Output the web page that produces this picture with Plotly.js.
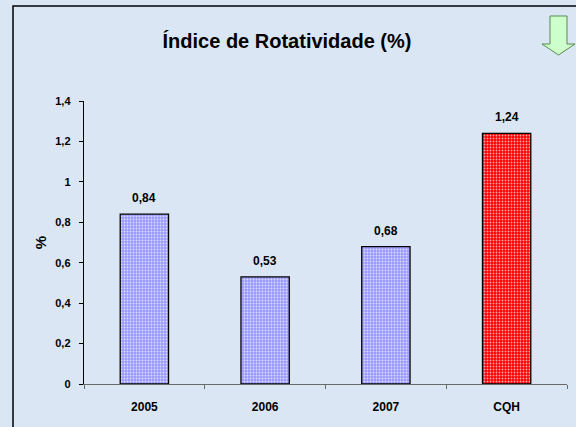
<!DOCTYPE html>
<html>
<head>
<meta charset="utf-8">
<script src="https://cdn.plot.ly/plotly-3.0.1.min.js"></script>
<style>html,body{margin:0;padding:0;background:#dae6f4;}#chart{width:576px;height:427px;}</style>
</head>
<body>
<div id="chart"></div>
<script>
const categories = ["2005", "2006", "2007", "CQH"];
const values = [0.84, 0.53, 0.68, 1.24];
const barColors = ["#9999ff", "#9999ff", "#9999ff", "#ff0000"];
const yTickLabels = ["0", "0,2", "0,4", "0,6", "0,8", "1", "1,2", "1,4"];
const yTickVals = [0, 0.2, 0.4, 0.6, 0.8, 1.0, 1.2, 1.4];

const W = 576, H = 427;
const M = {l: 84, r: 9, t: 101, b: 43};
const pw = W - M.l - M.r, ph = H - M.t - M.b;
function px(x) { return (x - M.l) / pw; }
function py(y) { return (H - M.b - y) / ph; }

const fontFam = "Liberation Sans, Arial, sans-serif";

const traces = categories.map((c, i) => ({
  type: "bar",
  x: [c],
  y: [values[i]],
  width: 0.4,
  marker: {
    color: barColors[i],
    line: {color: "#000000", width: 1.3},
    pattern: {shape: ".", bgcolor: barColors[i], fgcolor: "#ffffff", fgopacity: 0.65,
              size: 3, solidity: 0.3, fillmode: "replace"}
  },
  hoverinfo: "none"
}));

const annotations = categories.map((c, i) => ({
  x: i, y: values[i], xref: "x", yref: "y",
  text: values[i].toFixed(2).replace(".", ","),
  showarrow: false, yanchor: "bottom", yshift: 7,
  font: {family: fontFam, size: 12, color: "#000", weight: "bold"}
}));

const arrowPath = "M " + px(550) + " " + py(16) +
  " L " + px(567) + " " + py(16) +
  " L " + px(567) + " " + py(44) +
  " L " + px(575) + " " + py(44) +
  " L " + px(558.5) + " " + py(55) +
  " L " + px(542) + " " + py(44) +
  " L " + px(550) + " " + py(44) + " Z";

const layout = {
  width: W, height: H,
  margin: M,
  barmode: "overlay",
  paper_bgcolor: "#dae6f4",
  plot_bgcolor: "rgba(0,0,0,0)",
  separators: ", ",
  showlegend: false,
  title: {
    text: "Índice de Rotatividade (%)",
    x: 287 / W, xanchor: "center", xref: "container",
    y: 1 - 41 / H, yanchor: "middle", yref: "container",
    font: {family: fontFam, size: 20, color: "#000", weight: "bold"}
  },
  xaxis: {
    type: "category",
    categoryorder: "array", categoryarray: categories,
    range: [-0.5, 3.5],
    showline: true, linecolor: "#6a6a6a", linewidth: 1.3,
    ticks: "outside", tickson: "boundaries", ticklen: 4, tickcolor: "#6a6a6a", tickwidth: 1,
    showgrid: false, zeroline: false,
    tickfont: {family: fontFam, size: 12, color: "#000", weight: "bold"},
    ticklabelstandoff: 11,
    fixedrange: true
  },
  yaxis: {
    range: [0, 1.4],
    tickmode: "array", tickvals: yTickVals, ticktext: yTickLabels,
    showline: true, linecolor: "#000", linewidth: 1.3,
    ticks: "outside", ticklen: 4, tickcolor: "#000", tickwidth: 1,
    showgrid: false, zeroline: false,
    tickfont: {family: fontFam, size: 11, color: "#000", weight: "bold"},
    ticklabelstandoff: 6,
    title: {text: "%", standoff: 5, font: {family: fontFam, size: 15, color: "#000", weight: "bold"}},
    automargin: false,
    fixedrange: true
  },
  annotations: annotations,
  shapes: [
    {type: "rect", xref: "paper", yref: "paper", x0: px(13), x1: px(590), y0: py(440), y1: py(6),
     line: {color: "#000", width: 1.5}, fillcolor: "rgba(0,0,0,0)", layer: "below"},
    {type: "path", xref: "paper", yref: "paper", path: arrowPath,
     fillcolor: "#ccffcc", line: {color: "#5a8a4a", width: 1}}
  ]
};

Plotly.newPlot("chart", traces, layout, {displayModeBar: false, staticPlot: true});
</script>
</body>
</html>
